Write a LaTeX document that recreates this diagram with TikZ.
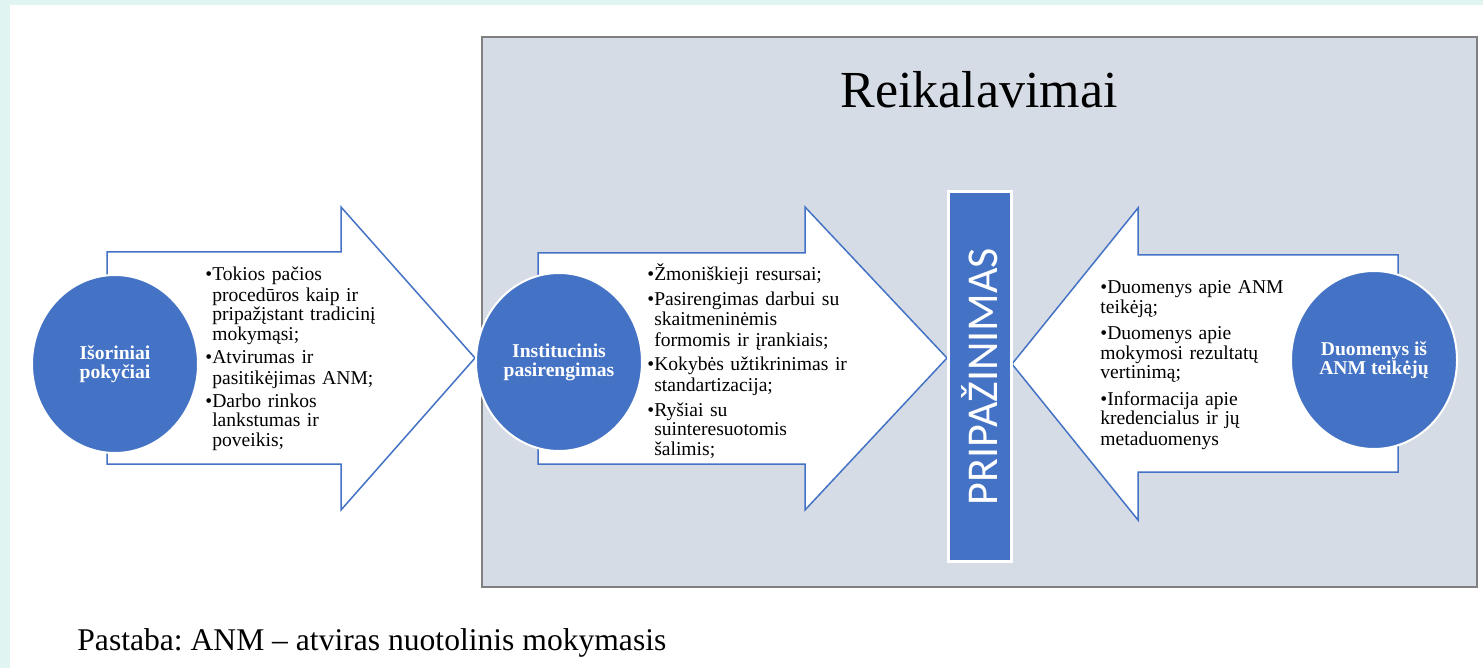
\documentclass[tikz,border=0pt]{standalone}
\usepackage{fontspec}
\setmainfont{Liberation Serif}
\newfontfamily\calibfont{Carlito}
\usetikzlibrary{shapes.geometric}
\definecolor{mblue}{HTML}{4472C4}
\definecolor{dezfon}{HTML}{D6DCE5}
\definecolor{kraj}{HTML}{808080}
\definecolor{melsv}{HTML}{E0F5F2}
\newcommand{\pind}{\phantom{•}}
\frenchspacing
\tikzset{
  krug/.style={ellipse,fill=mblue,draw=white,line width=1pt,minimum width=83pt,minimum height=89pt,
    inner sep=0pt,text=white,align=center,font=\fontsize{9.8}{9.6}\selectfont\bfseries},
  strela/.style={draw=mblue,fill=white,line width=0.75pt,line join=miter},
  punkty/.style={anchor=base west,inner sep=0pt,align=left,text width=110pt,font=\fontsize{9.8}{10}\selectfont}
}
\begin{document}
\begin{tikzpicture}[x=0.5pt,y=-0.5pt]
      \useasboundingbox (0,0) rectangle (1483,668);
      \fill[melsv] (0,0) rectangle (1483,668);
      \fill[white] (10,5) rectangle (1483,668);
      \draw[fill=dezfon,draw=kraj,line width=1pt] (482,37) rectangle (1477,587);
      \node(titul)[anchor=base,font=\fontsize{26}{28}\selectfont] at (979,108) {Reikalavimai};
      \draw[strela] (107,252) -- (341,252) -- (341,207) -- (475,358) -- (341,510) -- (341,464) -- (107,464) -- cycle;
      \draw[strela] (538,253) -- (805,253) -- (805,207) -- (947,358) -- (805,510) -- (805,464) -- (538,464) -- cycle;
      \draw[strela] (1398,255) -- (1138,255) -- (1138,208) -- (1012,364) -- (1138,520) -- (1138,472) -- (1398,472) -- cycle;
      \foreach \n/\x/\y/\t in{isor/115/364/{Išoriniai\\pokyčiai}, inst/559/362/{Institucinis\\pasirengimas}, duom/1374/360/{Duomenys iš\\ANM teikėjų}}{
        \node(\n)[krug] at (\x,\y) {\t};
      }
      \node(isorT)[punkty] at (205,281) {•Tokios pačios\\ \pind procedūros kaip ir\\ \pind pripažįstant tradicinį\\ \pind mokymąsi;\\[1.5pt]
        •Atvirumas ir\\ \pind pasitikėjimas ANM;\\[1.5pt] •Darbo rinkos\\ \pind lankstumas ir\\ \pind poveikis;};
      \node(instT)[punkty] at (647,281) {•Žmoniškieji resursai;\\[2.5pt] •Pasirengimas darbui su\\ \pind skaitmeninėmis\\ \pind formomis ir įrankiais;\\[2.5pt]
        •Kokybės užtikrinimas ir\\ \pind standartizacija;\\[2.5pt] •Ryšiai su\\ \pind suinteresuotomis\\ \pind šalimis;};
      \node(duomT)[punkty] at (1100,293) {•Duomenys apie ANM\\ teikėją;\\[3pt] •Duomenys apie\\ mokymosi rezultatų\\ vertinimą;\\[3pt]
        •Informacija apie\\ kredencialus ir jų\\ metaduomenys};
      \node(prip)[rotate=90,fill=mblue,draw=white,line width=1.5pt,minimum width=184.5pt,minimum height=31.5pt,inner sep=0pt,
        text=white,font=\calibfont\fontsize{22}{22}\selectfont] at (979.5,376.5) {PRIPAŽINIMAS};
      \node(pastaba)[anchor=base west,inner sep=0pt,font=\fontsize{15.8}{18}\selectfont] at (77,650) {Pastaba: ANM – atviras nuotolinis mokymasis};
    \end{tikzpicture}
\end{document}
